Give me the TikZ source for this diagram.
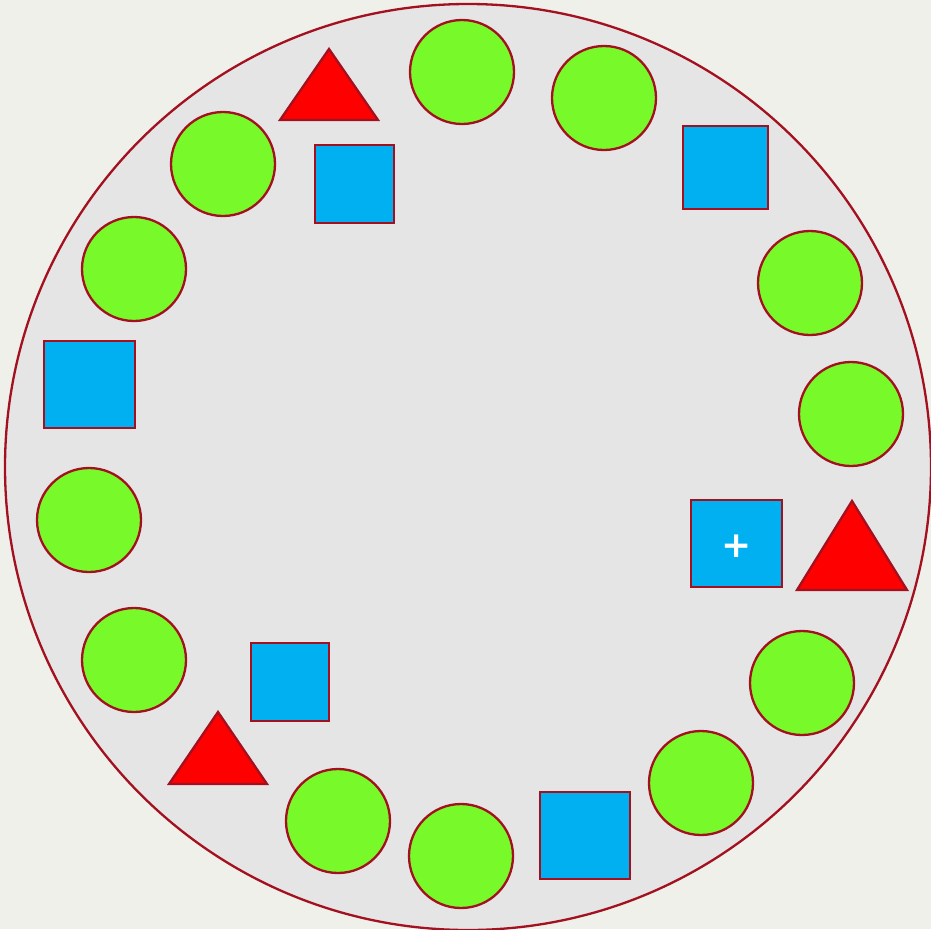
\documentclass[tikz,border=0pt]{standalone}
\usepackage{fontspec}
\newfontfamily\plusfont{DejaVu Sans}
\definecolor{bgc}{HTML}{F0F0EB}
\definecolor{plate}{HTML}{E5E5E5}
\definecolor{edge}{HTML}{A3101F}
\definecolor{grn}{HTML}{77F92A}
\definecolor{blu}{HTML}{00B0F0}
\definecolor{rd}{HTML}{FF0000}
\begin{document}
\begin{tikzpicture}[x=1pt,y=-1pt,
  ball/.style={circle,draw=edge,fill=grn,line width=2.3pt,minimum size=104pt,inner sep=0pt},
  box/.style={rectangle,draw=edge,fill=blu,line width=2.3pt,inner sep=0pt},
  tri/.style={draw=edge,fill=rd,line width=2.3pt,line join=miter}]
\useasboundingbox (0,0) rectangle (931,929);
\fill[bgc] (0,0) rectangle (931,929);
\node[circle,draw=edge,fill=plate,line width=2.3pt,minimum size=926pt,inner sep=0pt] (plate) at (468,467) {};
% balls
\node[ball] (g1) at (462,72) {};
\node[ball] (g2) at (604,98) {};
\node[ball] (g3) at (223,164) {};
\node[ball] (g4) at (134,269) {};
\node[ball] (g5) at (810,283) {};
\node[ball] (g6) at (851,414) {};
\node[ball] (g7) at (89,520) {};
\node[ball] (g8) at (134,660) {};
\node[ball] (g9) at (802,683) {};
\node[ball] (g10) at (701,783) {};
\node[ball] (g11) at (338,821) {};
\node[ball] (g12) at (461,856) {};
% boxes
\node[box,minimum width=79pt,minimum height=78pt] (b1) at (354.5,184) {};
\node[box,minimum width=85pt,minimum height=83pt] (b2) at (725.5,167.5) {};
\node[box,minimum width=91pt,minimum height=87pt] (b3) at (89.5,384.5) {};
\node[box,minimum width=91pt,minimum height=87pt] (b4) at (736.5,543.5) {};
\node[text=white,font=\plusfont\bfseries\fontsize{36}{36}\selectfont,inner sep=0pt] (plus) at (736.5,546) {+};
\node[box,minimum width=78pt,minimum height=78pt] (b5) at (290,682) {};
\node[box,minimum width=90pt,minimum height=87pt] (b6) at (585,835.5) {};
% triangles
\draw[tri] (329,49) -- (378,120) -- (280,120) -- cycle;
\draw[tri] (852,501) -- (907,590) -- (797,590) -- cycle;
\draw[tri] (218,712) -- (267,784) -- (169,784) -- cycle;
\end{tikzpicture}
\end{document}
